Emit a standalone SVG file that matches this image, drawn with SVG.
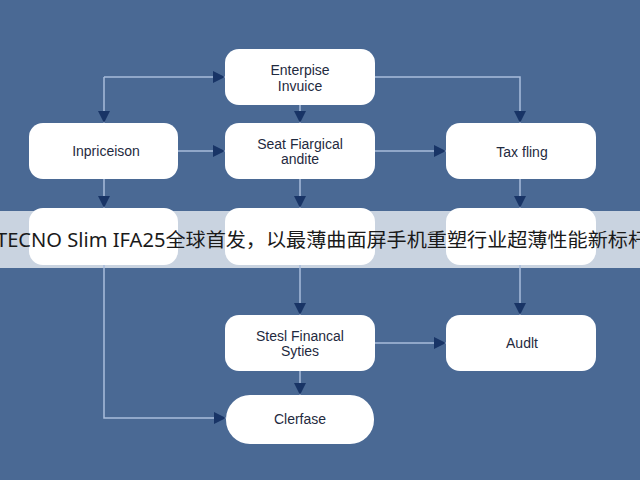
<svg xmlns="http://www.w3.org/2000/svg" width="640" height="480" viewBox="0 0 640 480">
<defs>
<marker id="ah" viewBox="0 0 10 10" refX="10" refY="5" markerWidth="12" markerHeight="12" markerUnits="userSpaceOnUse" orient="auto"><path d="M0,0L10,5L0,10z" fill="#183466"/></marker>
<style>
.n{fill:#fff}
.t{font-family:"Liberation Sans",Arial,sans-serif;font-size:14px;fill:#1f2a40;text-anchor:middle}
.c path{fill:none;stroke:#a9bddb;stroke-width:1.5;marker-end:url(#ah)}
</style>
</defs>
<rect width="640" height="480" fill="#4a6994"/>
<rect x="0" y="211" width="640" height="57" fill="#c9d3e0"/>
<g class="c">
<path d="M104,77H225"/>
<path d="M104,77V123"/>
<path d="M300,105V123"/>
<path d="M375,77H520V123"/>
<path d="M178,151H225"/>
<path d="M375,151H446"/>
<path d="M104,179V208"/>
<path d="M300,179V208"/>
<path d="M520,179V208"/>
<path d="M104,265V418H226"/>
<path d="M300,265V315"/>
<path d="M520,265V315"/>
<path d="M375,343H446"/>
<path d="M300,371V395"/>
</g>
<g id="n1"><rect class="n" x="225" y="49" width="150" height="56" rx="14"/><text class="t" x="300" y="75">Enterpise</text><text class="t" x="300" y="91">Invuice</text></g>
<g id="n2"><rect class="n" x="29" y="123" width="149" height="56" rx="14"/><text class="t" x="106" y="156">Inpriceison</text></g>
<g id="n3"><rect class="n" x="225" y="123" width="150" height="56" rx="14"/><text class="t" x="300" y="149">Seat Fiargical</text><text class="t" x="300" y="164">andite</text></g>
<g id="n4"><rect class="n" x="446" y="123" width="150" height="56" rx="14"/><text class="t" x="522" y="157">Tax fling</text></g>
<g id="n5"><rect class="n" x="29" y="208" width="149" height="57" rx="14"/></g>
<g id="n6"><rect class="n" x="225" y="208" width="150" height="57" rx="14"/></g>
<g id="n7"><rect class="n" x="446" y="208" width="150" height="57" rx="14"/></g>
<g id="n8"><rect class="n" x="225" y="315" width="150" height="56" rx="14"/><text class="t" x="300" y="341">Stesl Financal</text><text class="t" x="300" y="356">Syties</text></g>
<g id="n9"><rect class="n" x="446" y="315" width="150" height="56" rx="14"/><text class="t" x="522" y="348">Audlt</text></g>
<g id="n10"><rect class="n" x="226" y="395" width="148" height="49" rx="24"/><text class="t" x="300" y="424">Clerfase</text></g>
<text x="-4" y="247" font-family="'Noto Sans','Noto Sans CJK SC',sans-serif" font-size="19" fill="#1a1a1a" textLength="652" lengthAdjust="spacingAndGlyphs">TECNO Slim IFA25全球首发，以最薄曲面屏手机重塑行业超薄性能新标杆</text>
</svg>
